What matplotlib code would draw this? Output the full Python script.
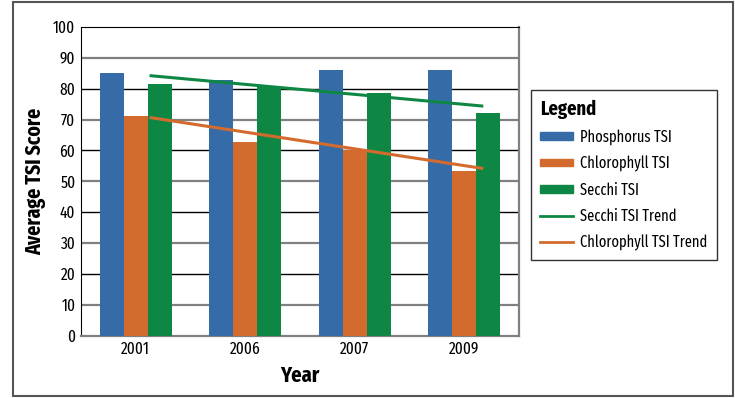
import matplotlib
matplotlib.use("Agg")
import matplotlib.pyplot as plt
import numpy as np
from matplotlib.patches import Rectangle, Patch
from matplotlib.lines import Line2D

years = ["2001", "2006", "2007", "2009"]
phosphorus = [85.2, 82.9, 86.2, 86.2]
chlorophyll = [71.2, 62.8, 60.2, 53.4]
secchi = [81.6, 81.0, 78.7, 72.2]
secchi_trend = [84.2, 74.4]       # start (2001) / end (2009)
chlorophyll_trend = [70.6, 54.2]
yticks = list(range(0, 101, 10))

plt.rcParams["font.family"] = ["Fira Sans Extra Condensed", "DejaVu Sans"]

blue = "#356CA8"
orange = "#D46B2E"
green = "#0F8744"

fig = plt.figure(figsize=(7.35, 3.98), dpi=100)
fig.patches.append(Rectangle((13/735, 2/398), 720/735, 394/398, transform=fig.transFigure,
                             fill=False, edgecolor="#555555", linewidth=1.5))

ax = fig.add_axes([81/735, 1 - 335.5/398, 438/735, 308.5/398])
x = np.arange(len(years))
w = 0.22
ax.bar(x - w, phosphorus, w, color=blue, label="Phosphorus TSI", zorder=3)
ax.bar(x, chlorophyll, w, color=orange, label="Chlorophyll TSI", zorder=3)
ax.bar(x + w, secchi, w, color=green, label="Secchi TSI", zorder=3)

tx = [x[0] + 0.14, x[-1] + 0.16]
ax.plot(tx, secchi_trend, color=green, lw=2.2, zorder=4, label="Secchi TSI Trend")
ax.plot(tx, chlorophyll_trend, color=orange, lw=2.2, zorder=4, label="Chlorophyll TSI Trend")

ax.set_xlim(-0.5, 3.5)
ax.set_ylim(0, 100)
ax.set_yticks(yticks)
for i, v in enumerate(yticks[1:-1], start=1):
    if i % 2 == 1:
        ax.axhline(v, color="#808080", lw=1.6, zorder=1)
    else:
        ax.axhline(v, color="black", lw=1.0, zorder=1)
ax.set_xticks(x)
ax.set_xticklabels(years)
ax.tick_params(axis="both", length=0, labelsize=12, pad=4)
ax.spines["left"].set_color("black")
ax.spines["top"].set_color("black")
ax.spines["right"].set_color("#808080")
ax.spines["right"].set_linewidth(1.6)
ax.spines["bottom"].set_color("#808080")
ax.spines["bottom"].set_linewidth(1.6)

ax.set_ylabel("Average TSI Score", fontsize=15.5, fontweight="bold", labelpad=5)
ax.set_xlabel("Year", fontsize=16, fontweight="bold", labelpad=6)

handles = [Patch(color=blue), Patch(color=orange), Patch(color=green),
           Line2D([], [], color=green, lw=2), Line2D([], [], color=orange, lw=2)]
labels = ["Phosphorus TSI", "Chlorophyll TSI", "Secchi TSI", "Secchi TSI Trend", "Chlorophyll TSI Trend"]
leg = fig.legend(handles, labels, title="Legend", loc="upper left",
                 bbox_to_anchor=(531/735, 1 - 90/398), frameon=True, fancybox=False,
                 edgecolor="black", fontsize=11.3, title_fontsize=14.5, handlelength=2.1,
                 handleheight=0.35, labelspacing=0.65, borderpad=0.6, handletextpad=0.45,
                 borderaxespad=0, alignment="left")
leg.get_title().set_fontweight("bold")
leg.get_frame().set_linewidth(1.0)

fig.savefig("out.png", dpi=100)
